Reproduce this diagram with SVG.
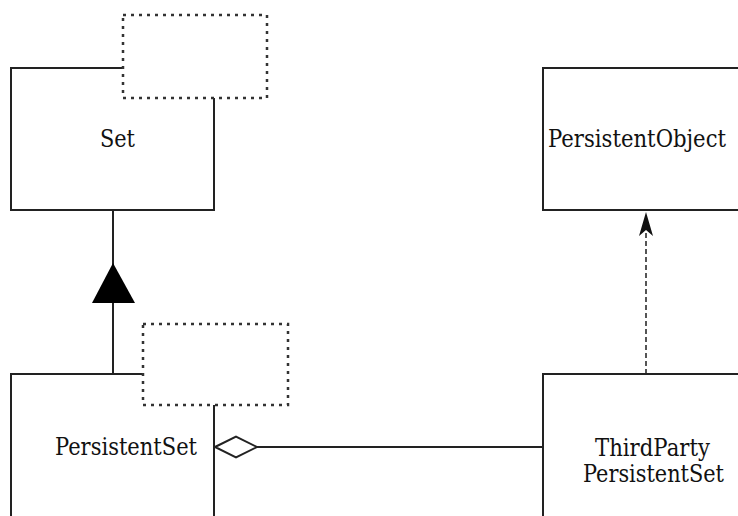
<svg xmlns="http://www.w3.org/2000/svg" width="738" height="516" viewBox="0 0 738 516">
  <style>
    .box { fill: #ffffff; stroke: #222222; stroke-width: 2; }
    .tmpl { fill: #ffffff; stroke: #333333; stroke-width: 2.5; stroke-dasharray: 3 5; }
    .label { font-family: "DejaVu Serif", serif; font-size: 25px; fill: #111111; text-anchor: middle; }
    .edge { fill: none; stroke: #222222; stroke-width: 2; }
    .dep { fill: none; stroke: #555555; stroke-width: 2; stroke-dasharray: 5 3; }
  </style>
  <rect width="738" height="516" fill="#ffffff"/>

  <g id="connectors">
    <!-- generalization: PersistentSet to Set -->
    <line class="edge" x1="113" y1="210" x2="113" y2="374"/>
    <polygon points="113,263 92,303 135,303" fill="#000000"/>
    <!-- aggregation: ThirdPartyPersistentSet to PersistentSet -->
    <line class="edge" x1="257" y1="447" x2="543" y2="447"/>
    <polygon points="215,447 236,436.5 257,447 236,457.5" fill="#ffffff" stroke="#222222" stroke-width="2"/>
    <!-- dependency: ThirdPartyPersistentSet to PersistentObject -->
    <line class="dep" x1="646" y1="374" x2="646" y2="226"/>
    <path d="M646,212 L639,236 L646,230 L653,236 Z" fill="#111111"/>
  </g>

  <g id="set">
    <rect class="box" x="11" y="68" width="203" height="142"/>
    <rect class="tmpl" x="123" y="15" width="144" height="83"/>
    <text class="label" x="117.5" y="147" textLength="35" lengthAdjust="spacingAndGlyphs">Set</text>
  </g>

  <g id="persistent-object">
    <rect class="box" x="543" y="68" width="200" height="142"/>
    <text class="label" x="637" y="147" textLength="178" lengthAdjust="spacingAndGlyphs">PersistentObject</text>
  </g>

  <g id="persistent-set">
    <rect class="box" x="11" y="374" width="203" height="150"/>
    <rect class="tmpl" x="143" y="324" width="145" height="81"/>
    <text class="label" x="126" y="455" textLength="142" lengthAdjust="spacingAndGlyphs">PersistentSet</text>
  </g>

  <g id="third-party-persistent-set">
    <rect class="box" x="543" y="374" width="200" height="150"/>
    <text class="label" x="652.5" y="456" textLength="115" lengthAdjust="spacingAndGlyphs">ThirdParty</text>
    <text class="label" x="653.5" y="482" textLength="141" lengthAdjust="spacingAndGlyphs">PersistentSet</text>
  </g>
</svg>
